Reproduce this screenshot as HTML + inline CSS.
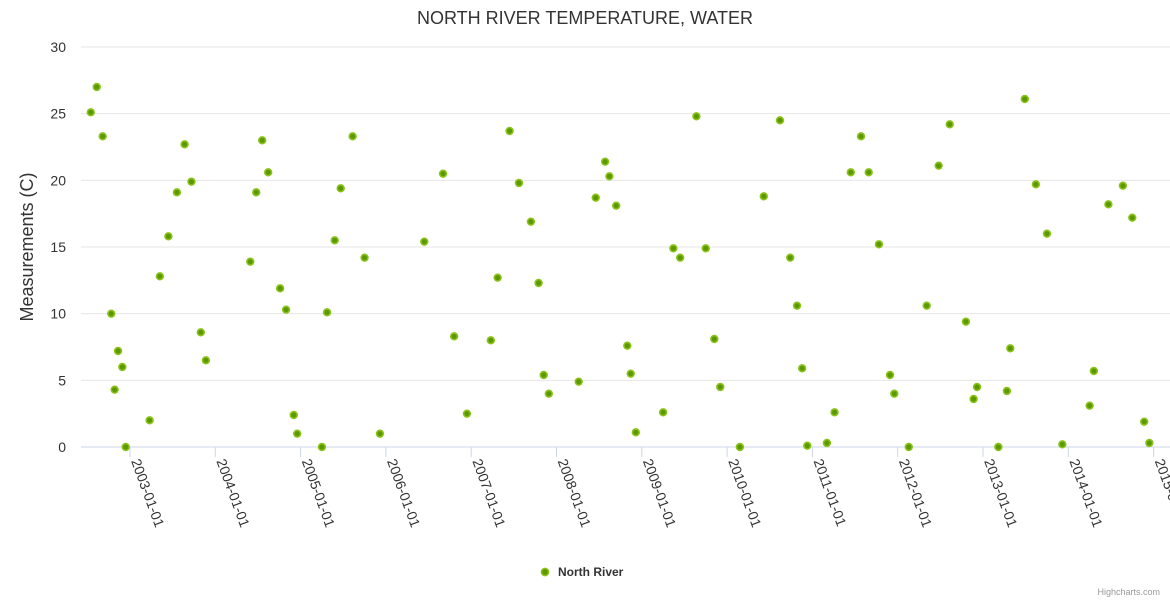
<!DOCTYPE html>
<html><head><meta charset="utf-8"><style>
html,body{margin:0;padding:0;background:#fff;}
svg{display:block;font-family:"Liberation Sans",sans-serif;}
</style></head><body>
<svg id="chart" width="1170" height="600">
<text x="585" y="24" text-anchor="middle" font-size="18" fill="#333">NORTH RIVER TEMPERATURE, WATER</text>
<text transform="translate(33,247) rotate(-90)" text-anchor="middle" font-size="18" fill="#333">Measurements (C)</text>
<g id="grid"></g><g id="xaxis"></g><g id="pts"></g>
<g>
<circle cx="545" cy="572" r="3.6" fill="#5a9a00" stroke="#8cc21a" stroke-width="1.5"/>
<text x="558" y="576" font-size="12" font-weight="bold" fill="#333">North River</text>
</g>
<text x="1160" y="595" text-anchor="end" font-size="9" fill="#999">Highcharts.com</text>
</svg>
<script>
const yTicks=[0,5,10,15,20,25,30];
const xTickYears=[2003,2004,2005,2006,2007,2008,2009,2010,2011,2012,2013,2014,2015];
const dates=[2002.54,2002.61,2002.68,2002.78,2002.82,2002.86,2002.91,2002.95,2003.23,2003.35,2003.45,2003.55,2003.64,2003.72,2003.83,2003.89,2004.41,2004.48,2004.55,2004.62,2004.76,2004.83,2004.92,2004.96,2005.25,2005.31,2005.40,2005.47,2005.61,2005.75,2005.93,2006.45,2006.67,2006.80,2006.95,2007.23,2007.31,2007.45,2007.56,2007.70,2007.79,2007.85,2007.91,2008.26,2008.46,2008.57,2008.62,2008.70,2008.83,2008.87,2008.93,2009.25,2009.37,2009.45,2009.64,2009.75,2009.85,2009.92,2010.15,2010.43,2010.62,2010.74,2010.82,2010.88,2010.94,2011.17,2011.26,2011.45,2011.57,2011.66,2011.78,2011.91,2011.96,2012.13,2012.34,2012.48,2012.61,2012.80,2012.89,2012.93,2013.18,2013.28,2013.32,2013.49,2013.62,2013.75,2013.93,2014.25,2014.30,2014.47,2014.64,2014.75,2014.89,2014.95];
const temps=[25.1,27,23.3,10,4.3,7.2,6,0,2,12.8,15.8,19.1,22.7,19.9,8.6,6.5,13.9,19.1,23,20.6,11.9,10.3,2.4,1,0,10.1,15.5,19.4,23.3,14.2,1,15.4,20.5,8.3,2.5,8,12.7,23.7,19.8,16.9,12.3,5.4,4,4.9,18.7,21.4,20.3,18.1,7.6,5.5,1.1,2.6,14.9,14.2,24.8,14.9,8.1,4.5,0,18.8,24.5,14.2,10.6,5.9,0.1,0.3,2.6,20.6,23.3,20.6,15.2,5.4,4,0,10.6,21.1,24.2,9.4,3.6,4.5,0,4.2,7.4,26.1,19.7,16,0.2,3.1,5.7,18.2,19.6,17.2,1.9,0.3];
const NS='http://www.w3.org/2000/svg';
const L=81,R=1170;
const xs=y=>130+(y-2003)*85.3;
const ys=v=>447-v*(400/30);
function mk(t,a,p){const e=document.createElementNS(NS,t);for(const k in a)e.setAttribute(k,a[k]);p.appendChild(e);return e;}
const grid=document.getElementById('grid'),xa=document.getElementById('xaxis'),pts=document.getElementById('pts');
yTicks.forEach(v=>{
 const l=mk('line',{x1:L,x2:R,y1:ys(v),y2:ys(v),stroke:v===0?'#ccd6eb':'#e6e6e6','stroke-width':1},grid);
 
 
 const t=mk('text',{x:66,y:ys(v)+5,'text-anchor':'end','font-size':14,fill:'#333'},grid);
 t.textContent=v;
 
 
});
xTickYears.forEach(y=>{
 const x=xs(y);
 const l=mk('line',{x1:x,x2:x,y1:447,y2:457,stroke:'#ccd6eb'},xa);
 
 
 const t=mk('text',{transform:`translate(${x+1},${461}) rotate(70)`,'font-size':14,fill:'#333'},xa);
 t.textContent=y+'-01-01';
 
 
});
dates.forEach((d,i)=>{
 const c=mk('circle',{cx:xs(d),cy:ys(temps[i]),r:3.4,fill:'#5a9a00',stroke:'#8cc21a','stroke-width':1.6},pts);
 
 
});
</script>
</body></html>
